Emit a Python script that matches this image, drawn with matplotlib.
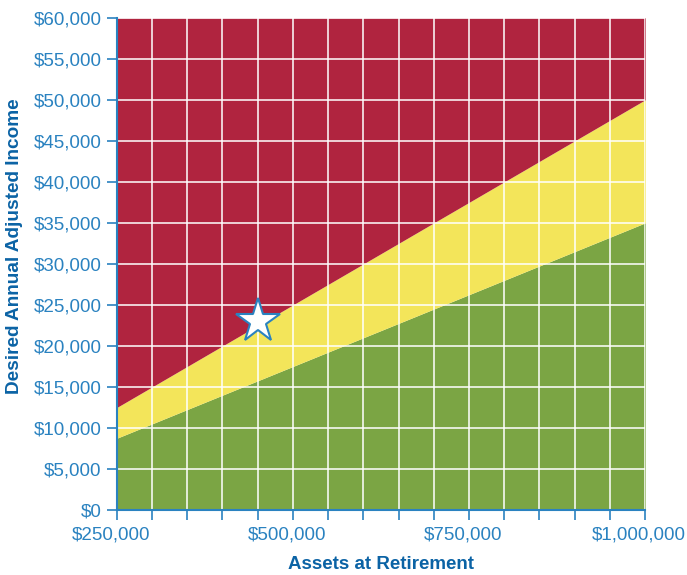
import numpy as np
import matplotlib.pyplot as plt
import matplotlib.transforms as mtransforms

# data
assets = [250000, 1000000]
low_income = [8750, 35000]      # lower edge of yellow band
high_income = [12500, 50000]    # upper edge of yellow band
star_assets = [450000]
star_income = [23000]

x_ticks = [250000, 500000, 750000, 1000000]
x_labels = ["$250,000", "$500,000", "$750,000", "$1,000,000"]
y_ticks = list(range(0, 60001, 5000))
y_labels = ["${:,}".format(v) for v in y_ticks]

blue = "#2a82c0"
dark_blue = "#0b63a5"
red = "#b0243f"
yellow = "#f3e55a"
green = "#7ba544"

plt.rcParams['font.family'] = ['Liberation Sans', 'DejaVu Sans']

fig = plt.figure(figsize=(6.87, 5.75), dpi=100)
ax = fig.add_axes([0.170, 0.113, 0.769, 0.856])

ax.fill_between(assets, 0, low_income, color=green, lw=0, zorder=1)
ax.fill_between(assets, low_income, high_income, color=yellow, lw=0, zorder=1)
ax.fill_between(assets, high_income, 60000, color=red, lw=0, zorder=1)

ax.set_xlim(250000, 1000000)
ax.set_ylim(0, 60000)

ax.set_xticks(np.arange(250000, 1000001, 50000), minor=True)
ax.set_xticks(x_ticks)
ax.set_xticklabels(x_labels)
ax.set_yticks(y_ticks)
ax.set_yticklabels(y_labels)

ax.grid(True, which='both', color='white', lw=1.3, alpha=0.85, zorder=2)
ax.set_axisbelow(False)

ax.plot(star_assets, star_income, marker='*', markersize=33, color='white',
        markeredgecolor=blue, markeredgewidth=1.5, linestyle='none', zorder=5)

for s in ['top', 'right']:
    ax.spines[s].set_visible(False)
for s in ['left', 'bottom']:
    ax.spines[s].set_color(blue)
    ax.spines[s].set_linewidth(1.5)
    ax.spines[s].set_zorder(4)

ax.tick_params(axis='both', which='both', colors=blue, length=7, width=1.2,
               labelsize=13.5, labelcolor=blue)
ax.tick_params(axis='x', which='both', direction='out', pad=5)
ax.tick_params(axis='y', pad=4)

# x tick labels sit a little left of their ticks in the original
shift = mtransforms.ScaledTranslation(-6 / 100, 0, fig.dpi_scale_trans)
for lab in ax.get_xticklabels():
    lab.set_transform(lab.get_transform() + shift)

ax.set_xlabel("Assets at Retirement", color=dark_blue, fontsize=13.5,
              fontweight='bold', labelpad=9)
ax.set_ylabel("Desired Annual Adjusted Income", color=dark_blue, fontsize=13.7,
              fontweight='bold')
ax.yaxis.set_label_coords(-0.178, 0.537)

fig.savefig("out.png", dpi=100)
